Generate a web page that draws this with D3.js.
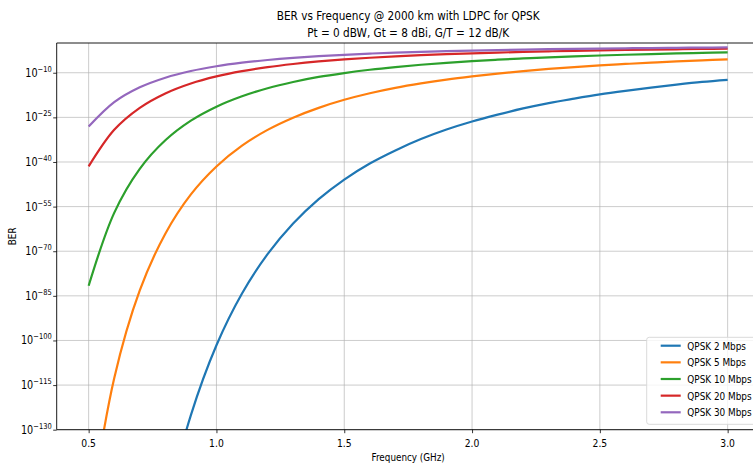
<!DOCTYPE html>
<html><head><meta charset="utf-8">
<script src="https://cdn.jsdelivr.net/npm/d3@7"></script>
<style>
html,body{margin:0;padding:0;background:#fff;overflow:hidden;}
text{font-family:"DejaVu Sans",sans-serif;fill:#000;}
</style></head>
<body><svg id="c" width="753" height="463"></svg>
<script>
// Frequency grid (GHz)
const freq = [0.5,0.6,0.7,0.8,0.9,1.0,1.1,1.2,1.3,1.4,1.5,1.6,1.7,1.8,1.9,2.0,2.1,2.2,2.3,2.4,2.5,2.6,2.7,2.8,2.9,3.0];
// log10(BER) for each data rate
const ber2  = [-401.6,-279.4,-205.7,-157.9,-125.1,-101.6,-84.2,-71.0,-60.7,-52.5,-45.9,-40.5,-36.1,-32.3,-29.1,-26.4,-24.1,-22.0,-20.2,-18.7,-17.3,-16.1,-15.0,-14.0,-13.1,-12.4];
const ber5  = [-161.7,-112.7,-83.2,-64.1,-50.9,-41.5,-34.5,-29.2,-25.1,-21.8,-19.1,-16.9,-15.1,-13.6,-12.3,-11.23,-10.3,-9.46,-8.73,-8.10,-7.54,-7.05,-6.60,-6.20,-5.84,-5.51];
const ber10 = [-81.6,-57.1,-42.3,-32.7,-26.1,-21.4,-17.9,-15.2,-13.1,-11.4,-10.1,-9.0,-8.09,-7.31,-6.66,-6.09,-5.61,-5.19,-4.82,-4.50,-4.21,-3.95,-3.72,-3.51,-3.33,-3.15];
const ber20 = [-41.5,-29.2,-21.8,-16.95,-13.6,-11.23,-9.46,-8.10,-7.05,-6.20,-5.51,-4.95,-4.48,-4.08,-3.75,-3.46,-3.21,-2.99,-2.80,-2.62,-2.47,-2.34,-2.22,-2.11,-2.01,-1.93];
const ber30 = [-28.1,-19.9,-14.9,-11.66,-9.42,-7.81,-6.62,-5.71,-4.99,-4.42,-3.96,-3.57,-3.25,-2.98,-2.75,-2.55,-2.38,-2.23,-2.09,-1.97,-1.87,-1.78,-1.69,-1.62,-1.55,-1.49];
const seriesNames = ["QPSK 2 Mbps","QPSK 5 Mbps","QPSK 10 Mbps","QPSK 20 Mbps","QPSK 30 Mbps"];
const seriesData = [ber2, ber5, ber10, ber20, ber30];
const colors = ["#1f77b4","#ff7f0e","#2ca02c","#d62728","#9467bd"];
const xTicks = [0.5,1.0,1.5,2.0,2.5,3.0];
const yTickExps = [-130,-115,-100,-85,-70,-55,-40,-25,-10];
const titleLines = ["BER vs Frequency @ 2000 km with LDPC for QPSK","Pt = 0 dBW, Gt = 8 dBi, G/T = 12 dB/K"];
const xLabel = "Frequency (GHz)";
const yLabel = "BER";

const SX = 0.84; // horizontal glyph compression seen in the reference
const svg = d3.select("#c");
const L = 56.7, R = 759.6, T = 43, B = 429.7;
const x = d3.scaleLinear().domain([0.375, 3.125]).range([L, R]);
const y = d3.scaleLinear().domain([-130, 0]).range([B, T]);

function ctext(g, px, py, str, size, anchor, rot) {
  const gg = g.append("g").attr("transform", `translate(${px},${py})` + (rot ? ` rotate(${rot})` : "") + ` scale(${SX},1)`);
  return gg.append("text").attr("text-anchor", anchor).attr("font-size", size).text(str);
}

// grid
const grid = svg.append("g");
xTicks.forEach(v => grid.append("line").attr("x1", x(v)).attr("x2", x(v)).attr("y1", T).attr("y2", B)
  .attr("stroke", "#b0b0b0").attr("stroke-opacity", 0.65).attr("stroke-width", 1));
yTickExps.forEach(v => grid.append("line").attr("x1", L).attr("x2", R).attr("y1", y(v)).attr("y2", y(v))
  .attr("stroke", "#b0b0b0").attr("stroke-opacity", 0.65).attr("stroke-width", 1));

// lines
svg.append("clipPath").attr("id", "clip").append("rect").attr("x", L).attr("y", T).attr("width", R - L).attr("height", B - T);
const line = d3.line().x((d, i) => x(freq[i])).y(d => y(d)).curve(d3.curveCatmullRom.alpha(0.5));
const lg = svg.append("g").attr("clip-path", "url(#clip)");
seriesData.forEach((s, k) => lg.append("path").attr("d", line(s)).attr("fill", "none")
  .attr("stroke", colors[k]).attr("stroke-width", 2.2));

// axes
const xAxis = d3.axisBottom(x).tickValues(xTicks).tickFormat(d3.format(".1f")).tickSize(3.5).tickPadding(3);
const xg = svg.append("g").attr("transform", `translate(0,${B})`).call(xAxis);
const yAxis = d3.axisLeft(y).tickValues(yTickExps).tickFormat("").tickSize(3.5);
const yg = svg.append("g").attr("transform", `translate(${L},0)`).call(yAxis);
[xg, yg].forEach(g => { g.select(".domain").remove(); g.selectAll(".tick line").attr("stroke", "#000").attr("stroke-width", 0.8); });
xg.selectAll(".tick text").remove();
xTicks.forEach(v => ctext(svg, x(v), B + 17, d3.format(".1f")(v), 11, "middle"));
yTickExps.forEach(v => {
  const gg = svg.append("g").attr("transform", `translate(${L - 5},${y(v) + 4}) scale(${SX},1)`);
  const t = gg.append("text").attr("text-anchor", "end").attr("font-size", 11.5);
  t.append("tspan").text("10");
  t.append("tspan").attr("font-size", 8).attr("dy", -5).text("\u2212" + Math.abs(v));
});

// spines
svg.append("line").attr("x1", L).attr("x2", L).attr("y1", T).attr("y2", B).attr("stroke", "#000").attr("stroke-width", 0.9);
svg.append("line").attr("x1", L).attr("x2", R).attr("y1", B).attr("y2", B).attr("stroke", "#000").attr("stroke-width", 0.9);
svg.append("line").attr("x1", L).attr("x2", R).attr("y1", T).attr("y2", T).attr("stroke", "#000").attr("stroke-width", 0.9);
svg.append("line").attr("x1", R).attr("x2", R).attr("y1", T).attr("y2", B).attr("stroke", "#000").attr("stroke-width", 0.9);

// titles and labels
const cx = (L + R) / 2;
ctext(svg, cx, 20, titleLines[0], 12.5, "middle");
ctext(svg, cx, 37, titleLines[1], 12.5, "middle");
ctext(svg, cx, 461, xLabel, 10.5, "middle");
ctext(svg, 16, (T + B) / 2, yLabel, 10.5, "middle", -90);

// legend
const leg = svg.append("g");
leg.append("rect").attr("x", 646.7).attr("y", 337.3).attr("width", 125).attr("height", 87).attr("rx", 2.5)
  .attr("fill", "#fff").attr("fill-opacity", 0.8).attr("stroke", "#d6d6d6").attr("stroke-width", 0.9);
seriesNames.forEach((n, k) => {
  const yy = 345.7 + k * 16.65;
  leg.append("line").attr("x1", 660.7).attr("x2", 680.7).attr("y1", yy).attr("y2", yy).attr("stroke", colors[k]).attr("stroke-width", 2.2);
  ctext(leg, 687.3, yy + 4, n, 10.6, "start");
});
</script></body></html>
